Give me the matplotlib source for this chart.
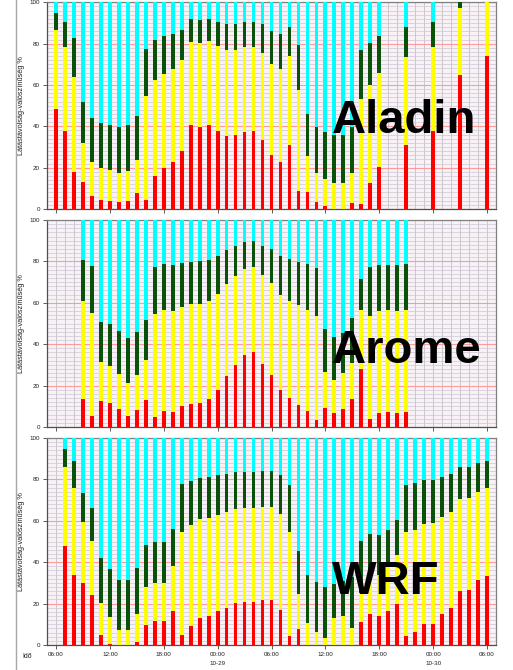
import matplotlib
matplotlib.use("Agg")
import matplotlib.pyplot as plt
from matplotlib.ticker import MultipleLocator, FixedLocator
from matplotlib.lines import Line2D
import numpy as np

plt.rcParams['font.family'] = ['Liberation Sans', 'DejaVu Sans']

# hours after 10-28 06:00
xticks = [0, 6, 12, 18, 24, 30, 36, 42, 48]
xticklabels = ["06:00", "12:00", "18:00", "00:00\n10-29", "06:00", "12:00", "18:00", "00:00\n10-30", "06:00"]
ylabel = "Látástávolság-valószínűség %"
xlabel = "Idő"
model_names = ["Aladin", "Arome", "WRF"]

# cumulative probability tops (%) for each category: red, yellow, dark green; cyan fills up to 100
aladin_hours = list(range(0, 37)) + [39, 42, 45, 48]
aladin_red = [48.3, 37.5, 17.9, 12.9, 6.4, 4.5, 4.0, 3.5, 4.0, 7.6, 4.5, 15.8, 19.6, 22.9, 28.2, 40.7, 39.5,
              40.7, 37.5, 35.1, 35.6, 37.2, 37.8, 33.5, 26.2, 22.7, 31.1, 8.9, 8.4, 3.5, 1.5, 0.0, 0.0, 3.1,
              2.4, 12.4, 20.2, 31.0, 37.8, 64.9, 74.2]
aladin_yellow = [86.6, 78.3, 63.9, 32.0, 22.5, 19.8, 18.8, 17.4, 18.2, 23.7, 54.8, 62.5, 65.4, 67.5, 72.0, 80.7,
                 80.4, 81.3, 78.9, 76.8, 76.8, 78.3, 78.6, 75.4, 70.2, 67.8, 73.8, 57.6, 25.4, 17.6, 14.4, 12.4,
                 12.4, 17.3, 53.2, 60.0, 65.6, 73.7, 78.6, 97.4, 100.0]
aladin_green = [94.8, 90.5, 82.8, 51.7, 43.8, 41.4, 40.7, 39.9, 40.4, 44.8, 77.3, 81.8, 83.9, 84.9, 86.8, 91.9,
                91.5, 91.9, 90.5, 89.7, 89.7, 90.5, 90.5, 89.4, 86.2, 84.7, 87.9, 79.2, 46.1, 39.8, 37.1, 35.8,
                35.8, 39.8, 76.9, 80.2, 83.9, 88.2, 90.5, 100.0, 100.0]

arome_hours = list(range(3, 40))
arome_red = [13.5, 5.5, 12.4, 11.4, 8.5, 5.5, 8.0, 12.9, 5.0, 7.6, 7.1, 10.0, 11.1, 11.4, 13.5, 17.7, 24.8, 30.1,
             34.6, 36.0, 30.5, 25.2, 17.7, 14.0, 10.5, 7.7, 3.4, 9.3, 6.9, 8.7, 13.4, 28.0, 3.9, 6.9, 7.4, 6.9, 7.4]
arome_yellow = [60.9, 55.0, 31.2, 29.6, 25.6, 21.2, 25.2, 32.5, 54.7, 56.6, 56.1, 58.2, 59.3, 59.6, 61.1, 64.1,
                69.0, 73.0, 76.2, 77.2, 73.5, 69.5, 63.8, 60.9, 59.0, 56.5, 53.8, 26.4, 22.7, 25.9, 31.0, 56.5,
                53.8, 56.2, 56.5, 56.2, 56.5]
arome_green = [80.7, 77.8, 50.6, 49.8, 46.3, 42.9, 45.8, 51.8, 77.2, 78.6, 78.3, 79.1, 79.7, 80.1, 80.7, 82.8,
               85.7, 87.6, 89.5, 90.0, 87.5, 85.9, 82.6, 81.2, 79.7, 78.7, 76.7, 47.2, 43.6, 45.5, 52.5, 71.3,
               77.1, 78.3, 78.3, 78.3, 78.7]

wrf_hours = list(range(1, 49))
wrf_red = [47.8, 34.0, 30.1, 24.2, 5.0, 0.6, 0.0, 0.0, 1.6, 9.8, 11.4, 11.4, 16.4, 5.0, 9.3, 12.9, 13.8, 16.3,
           18.0, 20.5, 20.9, 20.9, 21.7, 21.7, 16.9, 4.3, 7.7, 0.0, 0.0, 0.0, 0.0, 0.0, 0.0, 11.3, 14.8, 13.8,
           16.4, 19.6, 4.3, 6.4, 10.3, 10.3, 14.8, 17.7, 26.2, 26.7, 31.4, 33.5]
wrf_yellow = [86.2, 75.8, 59.4, 50.2, 20.3, 13.4, 7.2, 7.2, 14.8, 28.2, 30.1, 30.1, 38.2, 54.8, 58.0, 60.7, 61.2,
              63.0, 64.1, 65.9, 66.3, 66.3, 66.8, 66.8, 63.3, 54.6, 24.6, 10.5, 6.4, 3.5, 13.2, 14.0, 8.4, 25.0,
              33.8, 33.8, 37.8, 43.5, 54.8, 55.6, 58.3, 59.1, 62.0, 64.4, 70.4, 70.9, 74.1, 76.0]
wrf_green = [94.5, 89.0, 73.3, 66.3, 41.9, 36.6, 31.4, 31.4, 37.4, 48.3, 49.8, 49.8, 56.2, 77.8, 79.2, 80.5, 81.2,
             82.1, 82.8, 83.6, 83.6, 83.6, 84.2, 84.2, 82.1, 77.3, 45.4, 33.8, 30.6, 28.2, 29.5, 31.0, 33.0, 50.2,
             53.6, 53.1, 55.6, 60.4, 77.3, 78.1, 79.7, 79.7, 81.0, 82.6, 86.0, 86.0, 87.9, 89.0]

panels = [
    (aladin_hours, aladin_red, aladin_yellow, aladin_green),
    (arome_hours, arome_red, arome_yellow, arome_green),
    (wrf_hours, wrf_red, wrf_yellow, wrf_green),
]

C_RED = "#ff0000"
C_YEL = "#ffff00"
C_GRN = "#0a520a"
C_CYA = "#00ffff"

W, H = 513, 670
fig = plt.figure(figsize=(W / 100, H / 100), dpi=100)
fig.patch.set_facecolor("white")

px_left, px_right = 47, 496
panel_px = [(2.3, 209), (220, 427), (438, 645)]
name_y = [36.7, 30.8, 24.5]

for i, ((hours, red, yel, grn), (ptop, pbot)) in enumerate(zip(panels, panel_px)):
    ax = fig.add_axes([px_left / W, 1 - pbot / H, (px_right - px_left) / W, (pbot - ptop) / H])
    ax.set_facecolor("#f8f2f6")
    h = np.array(hours, dtype=float)
    r = np.array(red); y = np.array(yel); g = np.array(grn)
    bw = 0.42
    ax.bar(h, r, width=bw, color=C_RED, linewidth=0, zorder=3)
    ax.bar(h, y - r, bottom=r, width=bw, color=C_YEL, linewidth=0, zorder=3)
    ax.bar(h, g - y, bottom=y, width=bw, color=C_GRN, linewidth=0, zorder=3)
    ax.bar(h, 100 - g, bottom=g, width=bw, color=C_CYA, linewidth=0, zorder=3)

    ax.set_xlim(-1, 49)
    ax.set_ylim(0, 100)
    ax.xaxis.set_major_locator(FixedLocator(xticks))
    ax.xaxis.set_minor_locator(MultipleLocator(1))
    ax.yaxis.set_major_locator(MultipleLocator(20))
    ax.yaxis.set_minor_locator(MultipleLocator(2))
    ax.set_axisbelow(True)
    ax.xaxis.grid(True, which="both", color="#c4c0c8", linewidth=0.6, zorder=0)
    ax.yaxis.grid(True, which="minor", color="#cdc8d4", linewidth=0.5, zorder=0)
    ax.yaxis.grid(True, which="major", color="#ff9a9a", linewidth=0.8, zorder=1)
    ax.tick_params(which="minor", length=0)
    ax.tick_params(which="major", length=3, width=0.6, color="#404040", labelsize=4.5, pad=2,
                   labelcolor="#202020")
    for s in ax.spines.values():
        s.set_color("#808080")
        s.set_linewidth(0.9)
    ax.spines["left"].set_color("#505050")
    ax.spines["bottom"].set_color("#505050")
    if i == 2:
        ax.set_xticklabels(xticklabels, linespacing=1.9)
        for lab in ax.get_xticklabels():
            lab.set_verticalalignment("top")
    else:
        ax.set_xticklabels([])
    ax.set_ylabel(ylabel, fontsize=5.3, color="#202020")
    ax.yaxis.set_label_coords(-0.05, 0.5)
    ax.text(30.7, name_y[i], model_names[i], fontsize=34, fontweight="bold", color="black",
            ha="left", va="baseline", zorder=10)

fig.text(22 / W, 1 - 657 / H, xlabel, fontsize=5, va="center", ha="left", color="#202020")
fig.add_artist(Line2D([16 / W, 16 / W], [0, 1], transform=fig.transFigure, color="#a8a8a8", linewidth=1.0))

fig.savefig("out.png", dpi=100)
